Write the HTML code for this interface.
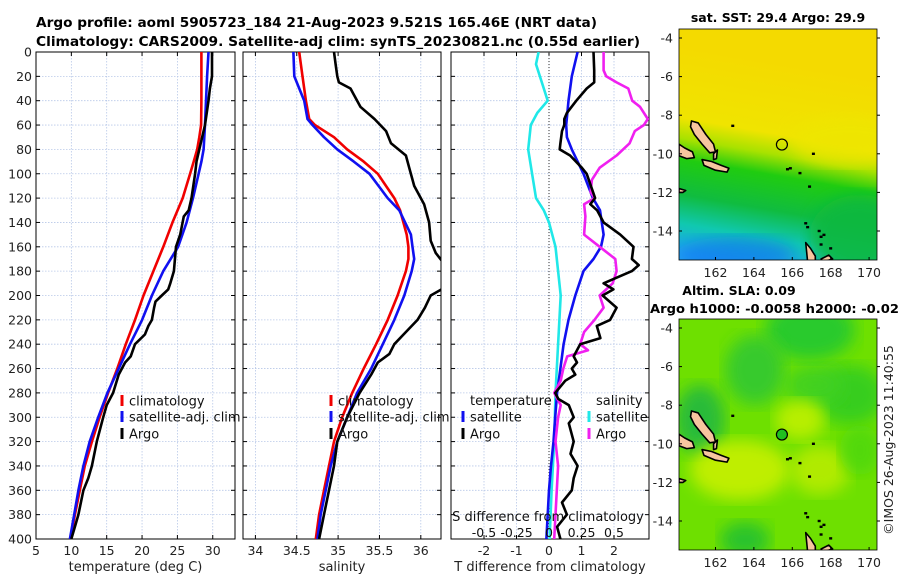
<!DOCTYPE html>
<html><head><meta charset="utf-8"><style>
html,body{margin:0;padding:0;background:#fff}
svg{display:block;font-family:"DejaVu Sans","Liberation Sans",sans-serif}
</style></head><body>
<svg id="c" width="900" height="580" viewBox="0 0 900 580" xmlns="http://www.w3.org/2000/svg">
<defs>
<clipPath id="cp1"><rect x="36" y="52" width="199" height="487"/></clipPath>
<clipPath id="cp2"><rect x="243" y="52" width="198" height="487"/></clipPath>
<clipPath id="cp3"><rect x="451" y="52" width="198" height="487"/></clipPath>
<clipPath id="cm1"><rect x="679" y="29" width="198" height="231"/></clipPath>
<clipPath id="cm2"><rect x="679" y="319" width="198" height="231"/></clipPath>
<linearGradient id="g1" gradientUnits="userSpaceOnUse" x1="770" y1="60" x2="735" y2="262">
<stop offset="0" stop-color="#f4da00"/><stop offset="0.35" stop-color="#f0e400"/>
<stop offset="0.45" stop-color="#a8e200"/><stop offset="0.55" stop-color="#20cc10"/>
<stop offset="0.72" stop-color="#10bc40"/><stop offset="0.86" stop-color="#10c8b0"/>
<stop offset="1" stop-color="#20a8f0"/></linearGradient>
<filter id="bl"><feGaussianBlur stdDeviation="8"/></filter>
</defs>
<g id="g-root"></g>
</svg>
<script>
// ---- data ----
const depthT=[0,20,40,60,70,80,90,100,120,140,160,180,200,220,240,260,280,300,320,340,360,380,400];
const tempClim=[28.4,28.4,28.4,28.35,28.1,27.8,27.3,26.8,25.75,24.3,23.0,21.6,20.2,19.0,17.7,16.5,15.2,14.0,12.9,11.9,11.2,10.5,9.9];
const tempSat=[29.4,29.2,29.05,28.9,28.8,28.7,28.4,28.0,27.2,26.3,25.1,23.0,21.4,20.0,18.3,16.7,15.1,13.8,12.6,11.7,11.0,10.4,9.8];
const depthArgoT=[0,20,30,40,60,80,90,100,120,130,135,150,160,180,190,195,200,205,210,220,225,232,240,250,255,265,280,290,300,320,340,350,360,380,390,400];
const tempArgo=[29.9,29.9,29.6,29.4,28.9,28.1,27.7,27.5,27.0,26.6,25.9,25.4,24.8,24.5,24.0,23.7,22.8,21.9,21.7,21.4,20.9,20.4,19.0,18.4,17.6,16.7,15.9,15.0,14.5,13.6,12.9,12.4,11.7,11.0,10.5,10.0];
const depthS=[0,20,40,55,60,70,80,90,100,120,130,150,160,170,180,200,220,240,260,280,300,320,340,360,380,400];
const salClim=[34.53,34.57,34.61,34.65,34.72,34.95,35.11,35.31,35.48,35.68,35.75,35.83,35.85,35.85,35.82,35.72,35.60,35.46,35.31,35.17,35.05,34.95,34.89,34.83,34.77,34.73];
const salSat=[34.46,34.47,34.59,34.63,34.69,34.83,34.99,35.19,35.38,35.60,35.74,35.88,35.90,35.92,35.89,35.80,35.68,35.54,35.40,35.23,35.11,34.99,34.91,34.85,34.79,34.75];
const depthArgoS=[0,10,20,25,30,35,45,55,65,75,85,95,110,125,140,155,165,172,188,195,200,210,220,230,240,248,255,265,280,300,320,340,360,380,400];
const salArgo=[34.95,34.97,34.99,35.01,35.15,35.19,35.27,35.44,35.58,35.64,35.82,35.86,35.92,36.04,36.10,36.12,36.18,36.26,36.28,36.25,36.12,36.05,35.96,35.82,35.68,35.62,35.48,35.40,35.26,35.11,34.99,34.95,34.89,34.83,34.77];
const depthD=[0,20,40,60,70,80,100,120,130,150,160,170,180,200,220,240,260,280,300,320,340,360,380,400];
const dTsat=[0.88,0.70,0.60,0.53,0.55,0.70,1.06,1.35,1.57,1.68,1.60,1.37,1.06,0.81,0.60,0.45,0.35,0.25,0.19,0.14,0.06,0.0,-0.04,-0.08];
const depthDA=[0,15,25,30,40,50,55,60,65,75,80,85,95,100,110,120,125,130,140,150,160,170,175,180,190,195,200,210,220,225,235,240,250,255,260,265,270,280,285,290,300,305,320,330,340,350,360,370,380,390,400];
const dTargo=[1.37,1.39,1.39,1.16,0.84,0.55,0.47,0.47,0.40,0.35,0.33,0.65,1.01,1.16,1.29,1.42,1.27,1.48,1.68,2.19,2.6,2.55,2.76,2.55,1.68,1.98,1.65,2.08,1.88,1.47,1.58,0.96,0.76,0.86,0.70,0.81,0.50,0.19,0.29,0.61,0.76,0.61,0.76,0.66,0.88,0.76,0.70,0.40,0.55,0.25,0.35];
const depthDS=[0,10,30,40,50,60,80,100,120,130,140,160,180,200,240,280,320,360,400];
const dSsat=[-0.08,-0.10,-0.04,-0.01,-0.09,-0.14,-0.16,-0.13,-0.10,-0.04,0.0,0.05,0.07,0.09,0.07,0.05,0.04,0.02,0.005];
const depthDSA=[0,15,20,25,30,40,45,55,60,65,75,85,95,105,115,120,125,135,150,160,170,180,190,200,210,220,230,240,245,250,260,270,280,290,300,310,320,340,360,380,400];
const dSargo=[0.42,0.42,0.44,0.52,0.61,0.64,0.70,0.76,0.73,0.66,0.62,0.52,0.39,0.33,0.32,0.35,0.27,0.28,0.27,0.39,0.51,0.52,0.49,0.39,0.42,0.35,0.27,0.24,0.30,0.14,0.11,0.09,0.04,0.09,0.07,0.06,0.05,0.07,0.06,0.05,0.04];
const depthTicks=[0,20,40,60,80,100,120,140,160,180,200,220,240,260,280,300,320,340,360,380,400];
const tTicks=[5,10,15,20,25,30];
const sTicks=[34,34.5,35,35.5,36];
const sTickLabels=["34","34.5","35","35.5","36"];
const dTTicks=[-2,-1,0,1,2];
const dSTicks=[-0.5,-0.25,0,0.25,0.5];
const dSTickLabels=["-0.5","-0.25","0","0.25","0.5"];
const lonTicks=[162,164,166,168,170];
const latTicks=[-4,-6,-8,-10,-12,-14];
const argoLon=165.46, argoLat=-9.521;

// ---- scales ----
const Y=d=>52+d*487/400;
const X1=t=>36+(t-5)*7.07;
const X2=s=>243+(s-33.85)*82.7;
const X3=t=>549+t*32.5;
const X3s=s=>X3(s*4);
const MX=lon=>679+(lon-160.1)*19.2;
const MY1=lat=>38+(-4-lat)*19.3;
const MY2=lat=>328+(-4-lat)*19.3;

const NS="http://www.w3.org/2000/svg";
const root=document.getElementById('g-root');
function el(tag,attrs,parent){const e=document.createElementNS(NS,tag);for(const k in attrs)e.setAttribute(k,attrs[k]);(parent||root).appendChild(e);return e;}
function txt(s,attrs,parent){const e=el('text',attrs,parent);e.textContent=s;return e;}

function panel(x0,x1,ticks,xf,labels,title,name,showY){
  const g=el('g',{});
  
  
  ticks.forEach((t,i)=>{const x=xf(t);
    const gl=el('line',{x1:x,x2:x,y1:52,y2:539,stroke:'#b8c8e8','stroke-width':0.8,'stroke-dasharray':'1.5,1.5'},g);
    
    
    el('line',{x1:x,x2:x,y1:539,y2:535,stroke:'#000'},g);
    el('line',{x1:x,x2:x,y1:52,y2:56,stroke:'#000'},g);
    if(labels){const l=txt(labels[i],{x:x,y:555,'font-size':12.5,'text-anchor':'middle',fill:'#222'},g);
      
      }
  });
  depthTicks.forEach(d=>{const y=Y(d);
    const gl=el('line',{x1:x0,x2:x1,y1:y,y2:y,stroke:'#b8c8e8','stroke-width':0.8,'stroke-dasharray':'1.5,1.5'},g);
    
    
    el('line',{x1:x0,x2:x0+4,y1:y,y2:y,stroke:'#000'},g);
    el('line',{x1:x1-4,x2:x1,y1:y,y2:y,stroke:'#000'},g);
    if(showY){const l=txt(String(d),{x:x0-4,y:y+4.5,'font-size':12.5,'text-anchor':'end',fill:'#222'},g);
      
      }
  });
  const f=el('rect',{x:x0,y:52,width:x1-x0,height:487,fill:'none',stroke:'#000','stroke-width':1},g);
  
  
  if(title){const t=txt(title,{x:(x0+x1)/2,y:571,'font-size':13,'text-anchor':'middle',fill:'#222'},g);
    
    }
  return g;
}
function line(depths,vals,xf,color,clip,name){
  const p=depths.map((d,i)=>xf(vals[i]).toFixed(1)+','+Y(d).toFixed(1)).join(' ');
  const e=el('polyline',{points:p,fill:'none',stroke:color,'stroke-width':2.6,'stroke-linejoin':'round','clip-path':'url(#'+clip+')'});
  
  
}
function legItem(x,y,color,label,name){
  const r=el('rect',{x:x-1.5,y:y-7,width:3,height:11,fill:color});
  
  
  const t=txt(label,{x:x+7,y:y+3.5,'font-size':13,fill:'#111'});
  
  
}

// panel 1
panel(36,235,tTicks,X1,tTicks.map(String),'temperature (deg C)','temperature-panel',true);
line(depthT,tempClim,X1,'#f00000','cp1','temp-climatology-line');
line(depthT,tempSat,X1,'#1010f0','cp1','temp-satellite-line');
line(depthArgoT,tempArgo,X1,'#000','cp1','temp-argo-line');
legItem(122,402,'#f00000','climatology','legend-climatology');
legItem(122,418,'#1010f0','satellite-adj. clim','legend-satellite');
legItem(122,435,'#000','Argo','legend-argo');

// panel 2
panel(243,441,sTicks,X2,sTickLabels,'salinity','salinity-panel',false);
line(depthS,salClim,X2,'#f00000','cp2','sal-climatology-line');
line(depthS,salSat,X2,'#1010f0','cp2','sal-satellite-line');
line(depthArgoS,salArgo,X2,'#000','cp2','sal-argo-line');
legItem(331,402,'#f00000','climatology','legend2-climatology');
legItem(331,418,'#1010f0','satellite-adj. clim','legend2-satellite');
legItem(331,435,'#000','Argo','legend2-argo');

// panel 3
panel(451,649,dTTicks,X3,dTTicks.map(String),'T difference from climatology','difference-panel',false);
const zl=el('line',{x1:X3(0),x2:X3(0),y1:52,y2:539,stroke:'#333','stroke-width':1,'stroke-dasharray':'1,2'});


line(depthDS,dSsat,X3s,'#20e8e8','cp3','dsal-satellite-line');
line(depthD,dTsat,X3,'#1010f0','cp3','dtemp-satellite-line');
line(depthDSA,dSargo,X3s,'#f020f0','cp3','dsal-argo-line');
line(depthDA,dTargo,X3,'#000','cp3','dtemp-argo-line');
{const t=txt('temperature',{x:470,y:405,'font-size':13,fill:'#111'});
 const s=txt('salinity',{x:596,y:405,'font-size':13,fill:'#111'});}
legItem(463,418,'#1010f0','satellite','legend3-temp-satellite');
legItem(463,435,'#000','Argo','legend3-temp-argo');
legItem(589,418,'#20e8e8','satellite','legend3-sal-satellite');
legItem(589,435,'#f020f0','Argo','legend3-sal-argo');
{const t=txt('S difference from climatology',{x:548,y:521,'font-size':13,'text-anchor':'middle',fill:'#111'});
 }
dSTicks.forEach((s,i)=>{const t=txt(dSTickLabels[i],{x:X3s(s),y:537,'font-size':12.5,'text-anchor':'middle',fill:'#111'});
 
 });

// titles
{const a=txt('Argo profile: aoml 5905723_184 21-Aug-2023 9.521S 165.46E (NRT data)',{x:36,y:27,'font-size':13,'font-weight':'bold',textLength:561,lengthAdjust:'spacingAndGlyphs',fill:'#000'});
 
 const b=txt('Climatology: CARS2009. Satellite-adj clim: synTS_20230821.nc (0.55d earlier)',{x:36,y:46,'font-size':13,'font-weight':'bold',textLength:604,lengthAdjust:'spacingAndGlyphs',fill:'#000'});
 }

// maps
function islands(g,MY){
  const polys=[
    [[160.75,-8.3],[161.1,-8.4],[161.5,-9.0],[161.9,-9.5],[162.0,-9.9],[161.7,-9.95],[161.3,-9.5],[160.9,-9.0],[160.7,-8.6]],
    [[160.1,-9.5],[160.4,-9.7],[160.8,-9.9],[160.9,-10.2],[160.5,-10.25],[160.1,-10.1]],
    [[161.3,-10.3],[161.8,-10.4],[162.3,-10.6],[162.7,-10.75],[162.6,-10.95],[162.0,-10.85],[161.4,-10.6]],
    [[161.9,-10.0],[162.1,-9.8],[162.05,-10.25],[161.9,-10.3]],
    [[166.7,-14.6],[166.95,-14.9],[167.2,-15.3],[167.2,-15.6],[166.8,-15.6],[166.75,-15.1]],
    [[167.5,-15.45],[167.9,-15.25],[168.1,-15.45],[167.6,-15.6]],
    [[160.1,-11.8],[160.45,-11.9],[160.3,-12.0],[160.1,-12.0]]
  ];
  polys.forEach(p=>{const e=el('polygon',{points:p.map(q=>MX(q[0])+','+MY(q[1])).join(' '),fill:'#f7c59f',stroke:'#000','stroke-width':1.6,'stroke-linejoin':'round'},g);
    
    });
  [[165.75,-10.8],[165.9,-10.75],[166.9,-11.7],[166.7,-13.6],[166.8,-13.8],[167.4,-14.0],[167.5,-14.3],[167.65,-14.2],[167.5,-14.7],[167.1,-10.0],[166.4,-11.0],[162.9,-8.55],[168.0,-14.9]].forEach(q=>{
    const e=el('rect',{x:MX(q[0])-1.5,y:MY(q[1])-1.2,width:3,height:2.4,fill:'#000'},g);
    
    });
}
function mapAxes(g,MY,y0,y1){
  const f=el('rect',{x:679,y:y0,width:198,height:y1-y0,fill:'none',stroke:'#000','stroke-width':0.8},g);
  
  lonTicks.forEach(l=>{const x=MX(l);el('line',{x1:x,x2:x,y1:y1,y2:y1-3,stroke:'#000'},g);
    const t=txt(String(l),{x:x,y:y1+17,'font-size':12.5,'text-anchor':'middle',fill:'#222'},g);
    });
  latTicks.forEach(l=>{const y=MY(l);el('line',{x1:679,x2:682,y1:y,y2:y,stroke:'#000'},g);el('line',{x1:877,x2:880,y1:y,y2:y,stroke:'#000'},g);
    const t=txt(String(l),{x:673,y:y+4.5,'font-size':12.5,'text-anchor':'end',fill:'#222'},g);
    });
}
// SST map
{const g=el('g',{});
 
 const c=el('g',{'clip-path':'url(#cm1)'},g);
 el('rect',{x:679,y:29,width:198,height:231,fill:'url(#g1)'},c);
 el('ellipse',{cx:735,cy:255,rx:60,ry:18,fill:'#1070f0',opacity:0.6,filter:'url(#bl)'},c);
 el('ellipse',{cx:860,cy:235,rx:50,ry:40,fill:'#10b840',opacity:0.9,filter:'url(#bl)'},c);
 el('ellipse',{cx:850,cy:140,rx:60,ry:25,fill:'#eee600',opacity:0.8,filter:'url(#bl)'},c);
 islands(c,MY1);
 const m=el('circle',{cx:MX(argoLon),cy:MY1(argoLat),r:5.5,fill:'none',stroke:'#000','stroke-width':1.2},g);
 
 mapAxes(g,MY1,29,260);
 const t=txt('sat. SST: 29.4 Argo: 29.9',{x:778,y:22,'font-size':12.5,'font-weight':'bold','text-anchor':'middle',fill:'#000'},g);
 }
// SLA map
{const g=el('g',{});
 
 const c=el('g',{'clip-path':'url(#cm2)'},g);
 el('rect',{x:679,y:319,width:198,height:231,fill:'#6ee000'},c);
 [[810,330,45,30,'#20c830'],[850,395,35,30,'#30cc20'],[755,370,30,35,'#30c830'],[700,420,25,35,'#20b840'],[815,385,30,20,'#40d020'],
  [740,470,50,30,'#c8f000'],[820,470,30,25,'#b8ec00'],[800,420,25,20,'#c0f000'],[745,540,25,18,'#20c030'],[860,450,20,25,'#50d810']].forEach(b=>{
   el('ellipse',{cx:b[0],cy:b[1],rx:b[2],ry:b[3],fill:b[4],opacity:0.9,filter:'url(#bl)'},c);});
 islands(c,MY2);
 const m=el('circle',{cx:MX(argoLon),cy:MY2(argoLat),r:5.5,fill:'#20c020',stroke:'#000','stroke-width':1.2},g);
 
 mapAxes(g,MY2,319,550);
 const t1=txt('Altim. SLA: 0.09',{x:739,y:295,'font-size':12.5,'font-weight':'bold','text-anchor':'middle',fill:'#000'},g);
 
 const t2=txt('Argo h1000: -0.0058 h2000: -0.02',{x:650,y:313,'font-size':12.5,'font-weight':'bold',textLength:249,lengthAdjust:'spacingAndGlyphs',fill:'#000'},g);
 
 const cr=txt('©IMOS 26-Aug-2023 11:40:55',{x:0,y:0,'font-size':12.5,'text-anchor':'middle',fill:'#222',transform:'translate(893,440) rotate(-90)'},g);
 }
</script>
</body></html>
